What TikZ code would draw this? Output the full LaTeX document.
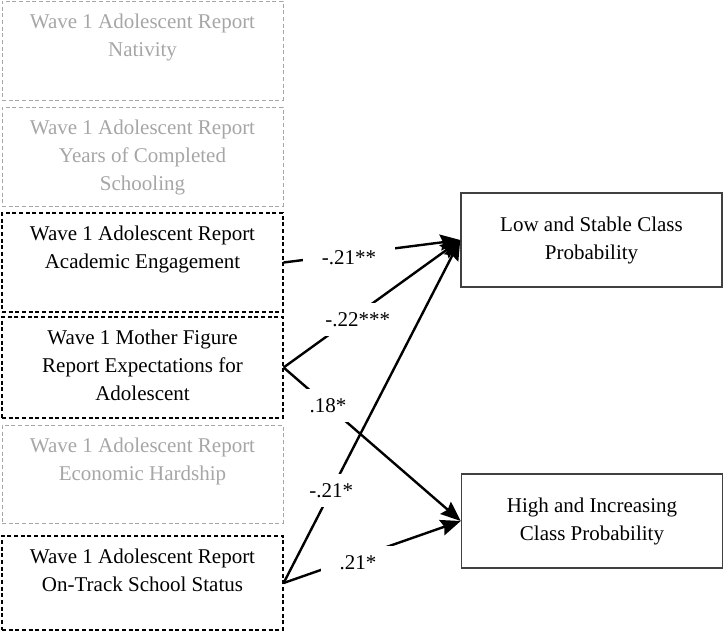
\documentclass[tikz,border=0pt]{standalone}
\usepackage{fontspec}
\setmainfont{Liberation Serif}
\usetikzlibrary{arrows.meta}
\definecolor{faded}{HTML}{A6A6A6}
\definecolor{frame}{HTML}{404040}
\begin{document}
\begin{tikzpicture}[
  x=0.75pt, y=-0.75pt,
  font=\fontsize{15.75}{21}\selectfont,
  pred/.style={draw, dash pattern=on 3pt off 2pt, line width=0.9pt,
    minimum width=210.75pt, minimum height=74.25pt},
  dim/.style={pred, draw=faded, line width=0.7pt},
  txt/.style={anchor=north, align=center, inner sep=0pt},
  outbox/.style={draw=frame, line width=1.1pt, align=center,
    minimum width=195.75pt, minimum height=70.5pt},
  coef/.style={fill=white, inner xsep=8pt, inner ysep=7pt},
  e/.style={line width=1.8pt, -{Stealth[length=15pt, width=12pt, inset=2pt]}}
]
\useasboundingbox (0,0) rectangle (724,636);

% predictor boxes
\node[dim] (b1) at (142.5,50.5) {};
\node[dim] (b2) at (142.5,156.5) {};
\node[pred] (b3) at (142.5,262.5) {};
\node[pred, minimum height=75.75pt] (b4) at (142.5,367.5) {};
\node[dim, minimum height=73.5pt] (b5) at (142.5,474) {};
\node[pred, minimum height=70.5pt] (b6) at (142.5,583) {};

\node[txt, text=faded] (t1) at ([yshift=-10pt]b1.north) {Wave 1 Adolescent Report\\Nativity};
\node[txt, text=faded] (t2) at ([yshift=-10pt]b2.north) {Wave 1 Adolescent Report\\Years of Completed\\Schooling};
\node[txt] (t3) at ([yshift=-10pt]b3.north) {Wave 1 Adolescent Report\\Academic Engagement};
\node[txt] (t4) at ([yshift=-10pt]b4.north) {Wave 1 Mother Figure\\Report Expectations for\\Adolescent};
\node[txt, text=faded] (t5) at ([yshift=-10pt]b5.north) {Wave 1 Adolescent Report\\Economic Hardship};
\node[txt] (t6) at ([yshift=-10pt]b6.north) {Wave 1 Adolescent Report\\On-Track School Status};

% outcome boxes
\node[outbox] (low) at (591.5,240) {Low and Stable Class\\Probability};
\node[outbox] (high) at (592,521) {High and Increasing\\Class Probability};

% paths
\draw[e] (b3.east) -- node[coef, pos=0.37, inner xsep=14pt, yshift=-3pt] (c1) {-.21**} (low.west);
\draw[e] (b4.east) -- node[coef, pos=0.42, yshift=-4pt] (c2) {-.22***} (low.west);
\draw[e] (b4.east) -- node[coef, pos=0.25] (c3) {.18*} (high.west);
\draw[e] (b6.east) -- node[coef, pos=0.27] (c4) {-.21*} (low.west);
\draw[e] (b6.east) -- node[coef, pos=0.42, inner xsep=14pt, yshift=-4pt] (c5) {.21*} (high.west);
\end{tikzpicture}
\end{document}
